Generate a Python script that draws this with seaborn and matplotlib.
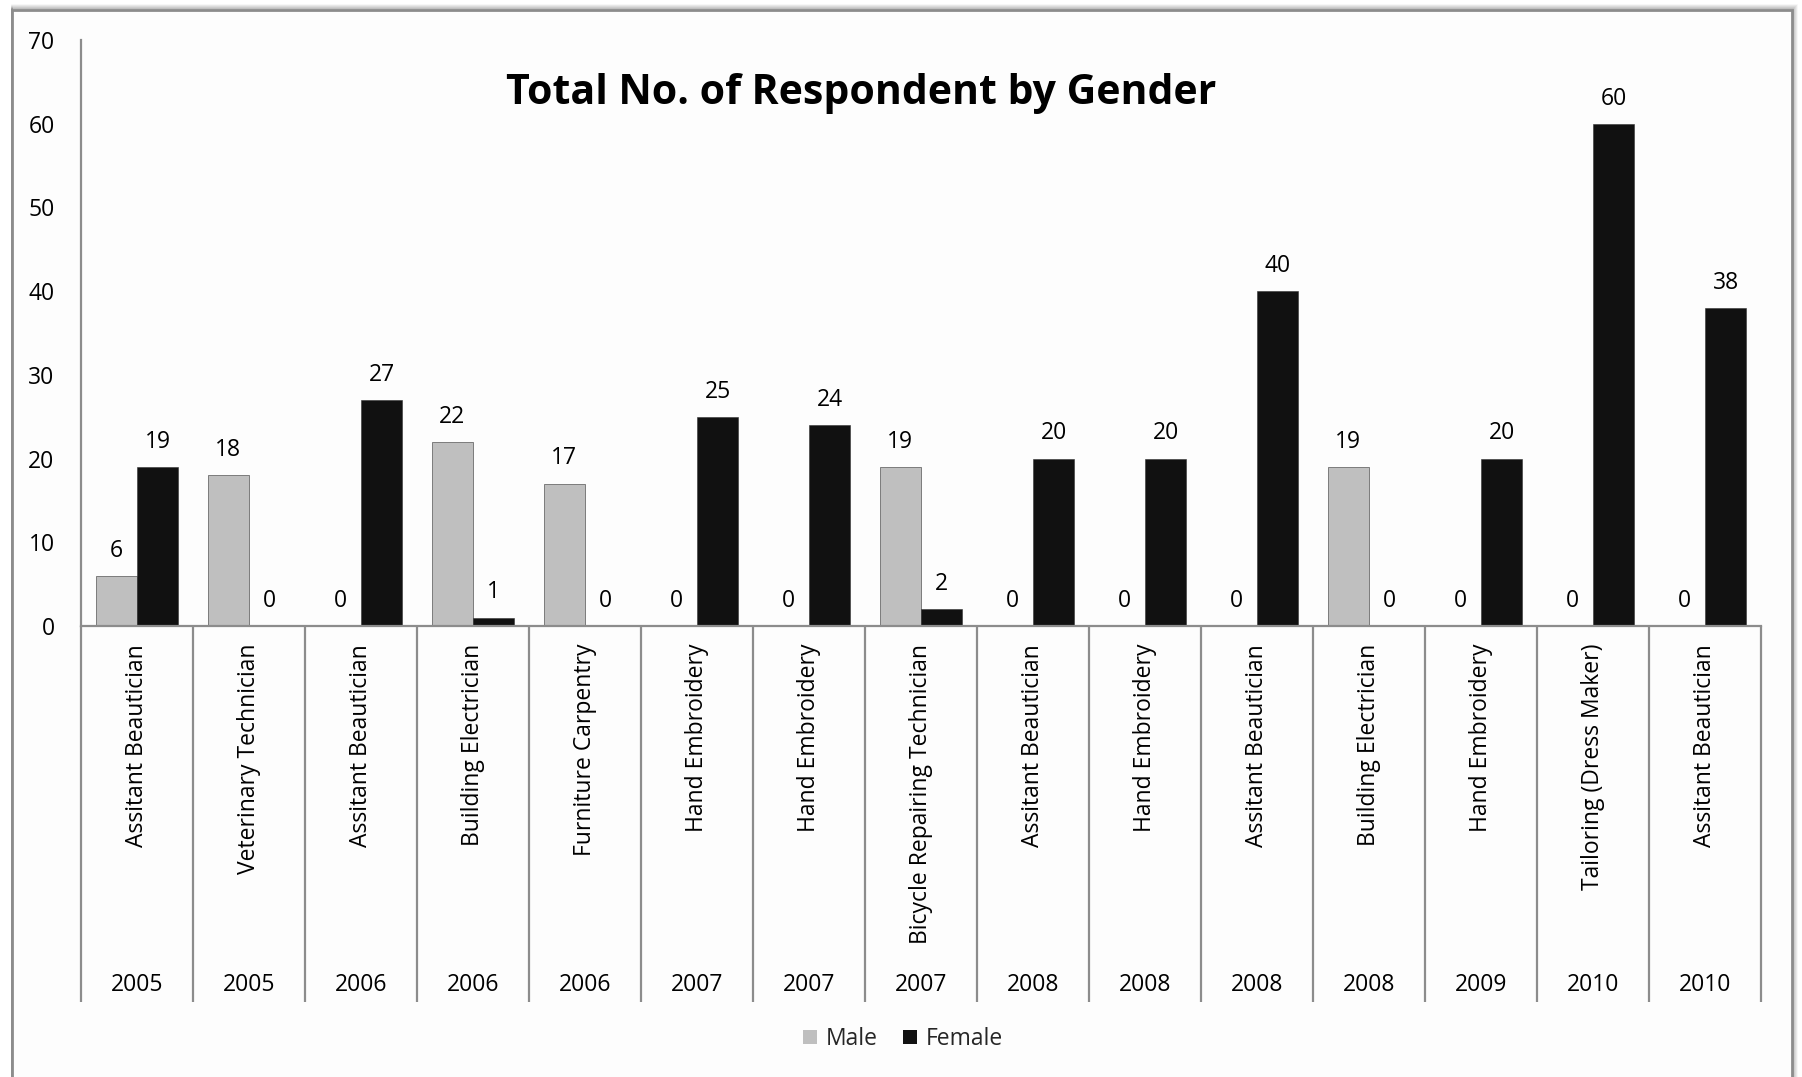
import matplotlib
matplotlib.use("Agg")
import matplotlib.pyplot as plt
import matplotlib.transforms as mtransforms
from matplotlib.patches import Rectangle, Patch
import pandas as pd
import seaborn as sns

# Training courses and their intake years
courses = [
    "Assitant Beautician", "Veterinary Technician", "Assitant Beautician",
    "Building Electrician", "Furniture Carpentry", "Hand Embroidery",
    "Hand Embroidery", "Bicycle Repairing Technician", "Assitant Beautician",
    "Hand Embroidery", "Assitant Beautician", "Building Electrician",
    "Hand Embroidery", "Tailoring (Dress Maker)", "Assitant Beautician",
]
years = ["2005", "2005", "2006", "2006", "2006", "2007", "2007", "2007",
         "2008", "2008", "2008", "2008", "2009", "2010", "2010"]
male = [6, 18, 0, 22, 17, 0, 0, 19, 0, 0, 0, 19, 0, 0, 0]
female = [19, 0, 27, 1, 0, 25, 24, 2, 20, 20, 40, 0, 20, 60, 38]
y_ticks = [0, 10, 20, 30, 40, 50, 60, 70]

genders = ["Male", "Female"]
palette = {"Male": "#bfbfbf", "Female": "#111111"}

n = len(courses)
df = pd.DataFrame({
    "slot": list(range(n)) * 2,
    "gender": ["Male"] * n + ["Female"] * n,
    "count": male + female,
})

sns.set_theme(style="white")
plt.rcParams["font.family"] = ["Open Sans", "DejaVu Sans"]
FS = 16.5

W, H = 1802, 1077
fig = plt.figure(figsize=(W / 100, H / 100), dpi=100)
fig.patch.set_facecolor("white")

# outer chart frame with a soft shadow on top and right
for i, a in enumerate([0.04, 0.07, 0.10, 0.14, 0.18]):
    off = 5 - i
    fig.add_artist(Rectangle((12 / W, -0.05), (1780 + off) / W, (1067 + off) / H + 0.05,
                             transform=fig.transFigure, fill=False,
                             edgecolor="black", alpha=a, linewidth=1.2, zorder=-3))
fig.add_artist(Rectangle((12 / W, -0.05), 1780 / W, 1067 / H + 0.05,
                         transform=fig.transFigure, facecolor="#fdfdfd",
                         edgecolor="#8c8c8c", linewidth=2, zorder=-2))

ax_left, ax_right = 81 / W, 1761 / W
ax_bottom, ax_top = 1 - 626 / H, 1 - 40 / H
ax = fig.add_axes([ax_left, ax_bottom, ax_right - ax_left, ax_top - ax_bottom])
ax.set_facecolor("none")

sns.barplot(data=df, x="slot", y="count", hue="gender", hue_order=genders,
            palette=palette, width=0.74, gap=0, dodge=True, saturation=1,
            edgecolor="#333333", linewidth=0.4, legend=False, ax=ax)

ax.set_ylim(0, 70)
ax.set_xlim(-0.5, n - 0.5)
ax.set_yticks(y_ticks)
ax.set_yticklabels([str(t) for t in y_ticks], fontsize=FS, color="black")
ax.tick_params(axis="y", length=0, pad=19)
ax.set_xticks([])
ax.set_xlabel("")
ax.set_ylabel("")
for side in ["top", "right"]:
    ax.spines[side].set_visible(False)
for side in ["left", "bottom"]:
    ax.spines[side].set_color("#8c8c8c")
    ax.spines[side].set_linewidth(1.6)

# value labels above every bar
for container, vals in zip(ax.containers, [male, female]):
    for bar, v in zip(container, vals):
        ax.annotate(str(v), (bar.get_x() + bar.get_width() / 2, v),
                    xytext=(0, 9.5), textcoords="offset points",
                    ha="center", va="bottom", fontsize=FS, color="black")

# category dividers and two-level axis labels below the baseline
trans = mtransforms.blended_transform_factory(ax.transData, fig.transFigure)
y_base = 1 - 626 / H
y_end = 1 - 1002 / H
for k in range(n + 1):
    x = k - 0.5
    ax.plot([x, x], [y_base, y_end], transform=trans, color="#8c8c8c",
            linewidth=1.6, clip_on=False, solid_capstyle="butt")
for k in range(n):
    ax.text(k, 1 - 644 / H, courses[k], transform=trans, rotation=90,
            ha="center", va="top", fontsize=FS, color="black")
    ax.text(k, 1 - 985 / H, years[k], transform=trans,
            ha="center", va="center", fontsize=FS, color="black")

fig.text(861 / W, 1 - 94 / H, "Total No. of Respondent by Gender",
         ha="center", va="center", fontsize=29.5, fontweight="bold", color="black")

handles = [Patch(facecolor=palette[g], edgecolor="none") for g in genders]
fig.legend(handles, genders, loc="center", bbox_to_anchor=(903 / W, 1 - 1039 / H),
           ncol=2, frameon=False, fontsize=FS, handlelength=0.6, handleheight=0.6,
           handletextpad=0.4, columnspacing=1.1)

fig.savefig("out.png", dpi=100, facecolor="white")
